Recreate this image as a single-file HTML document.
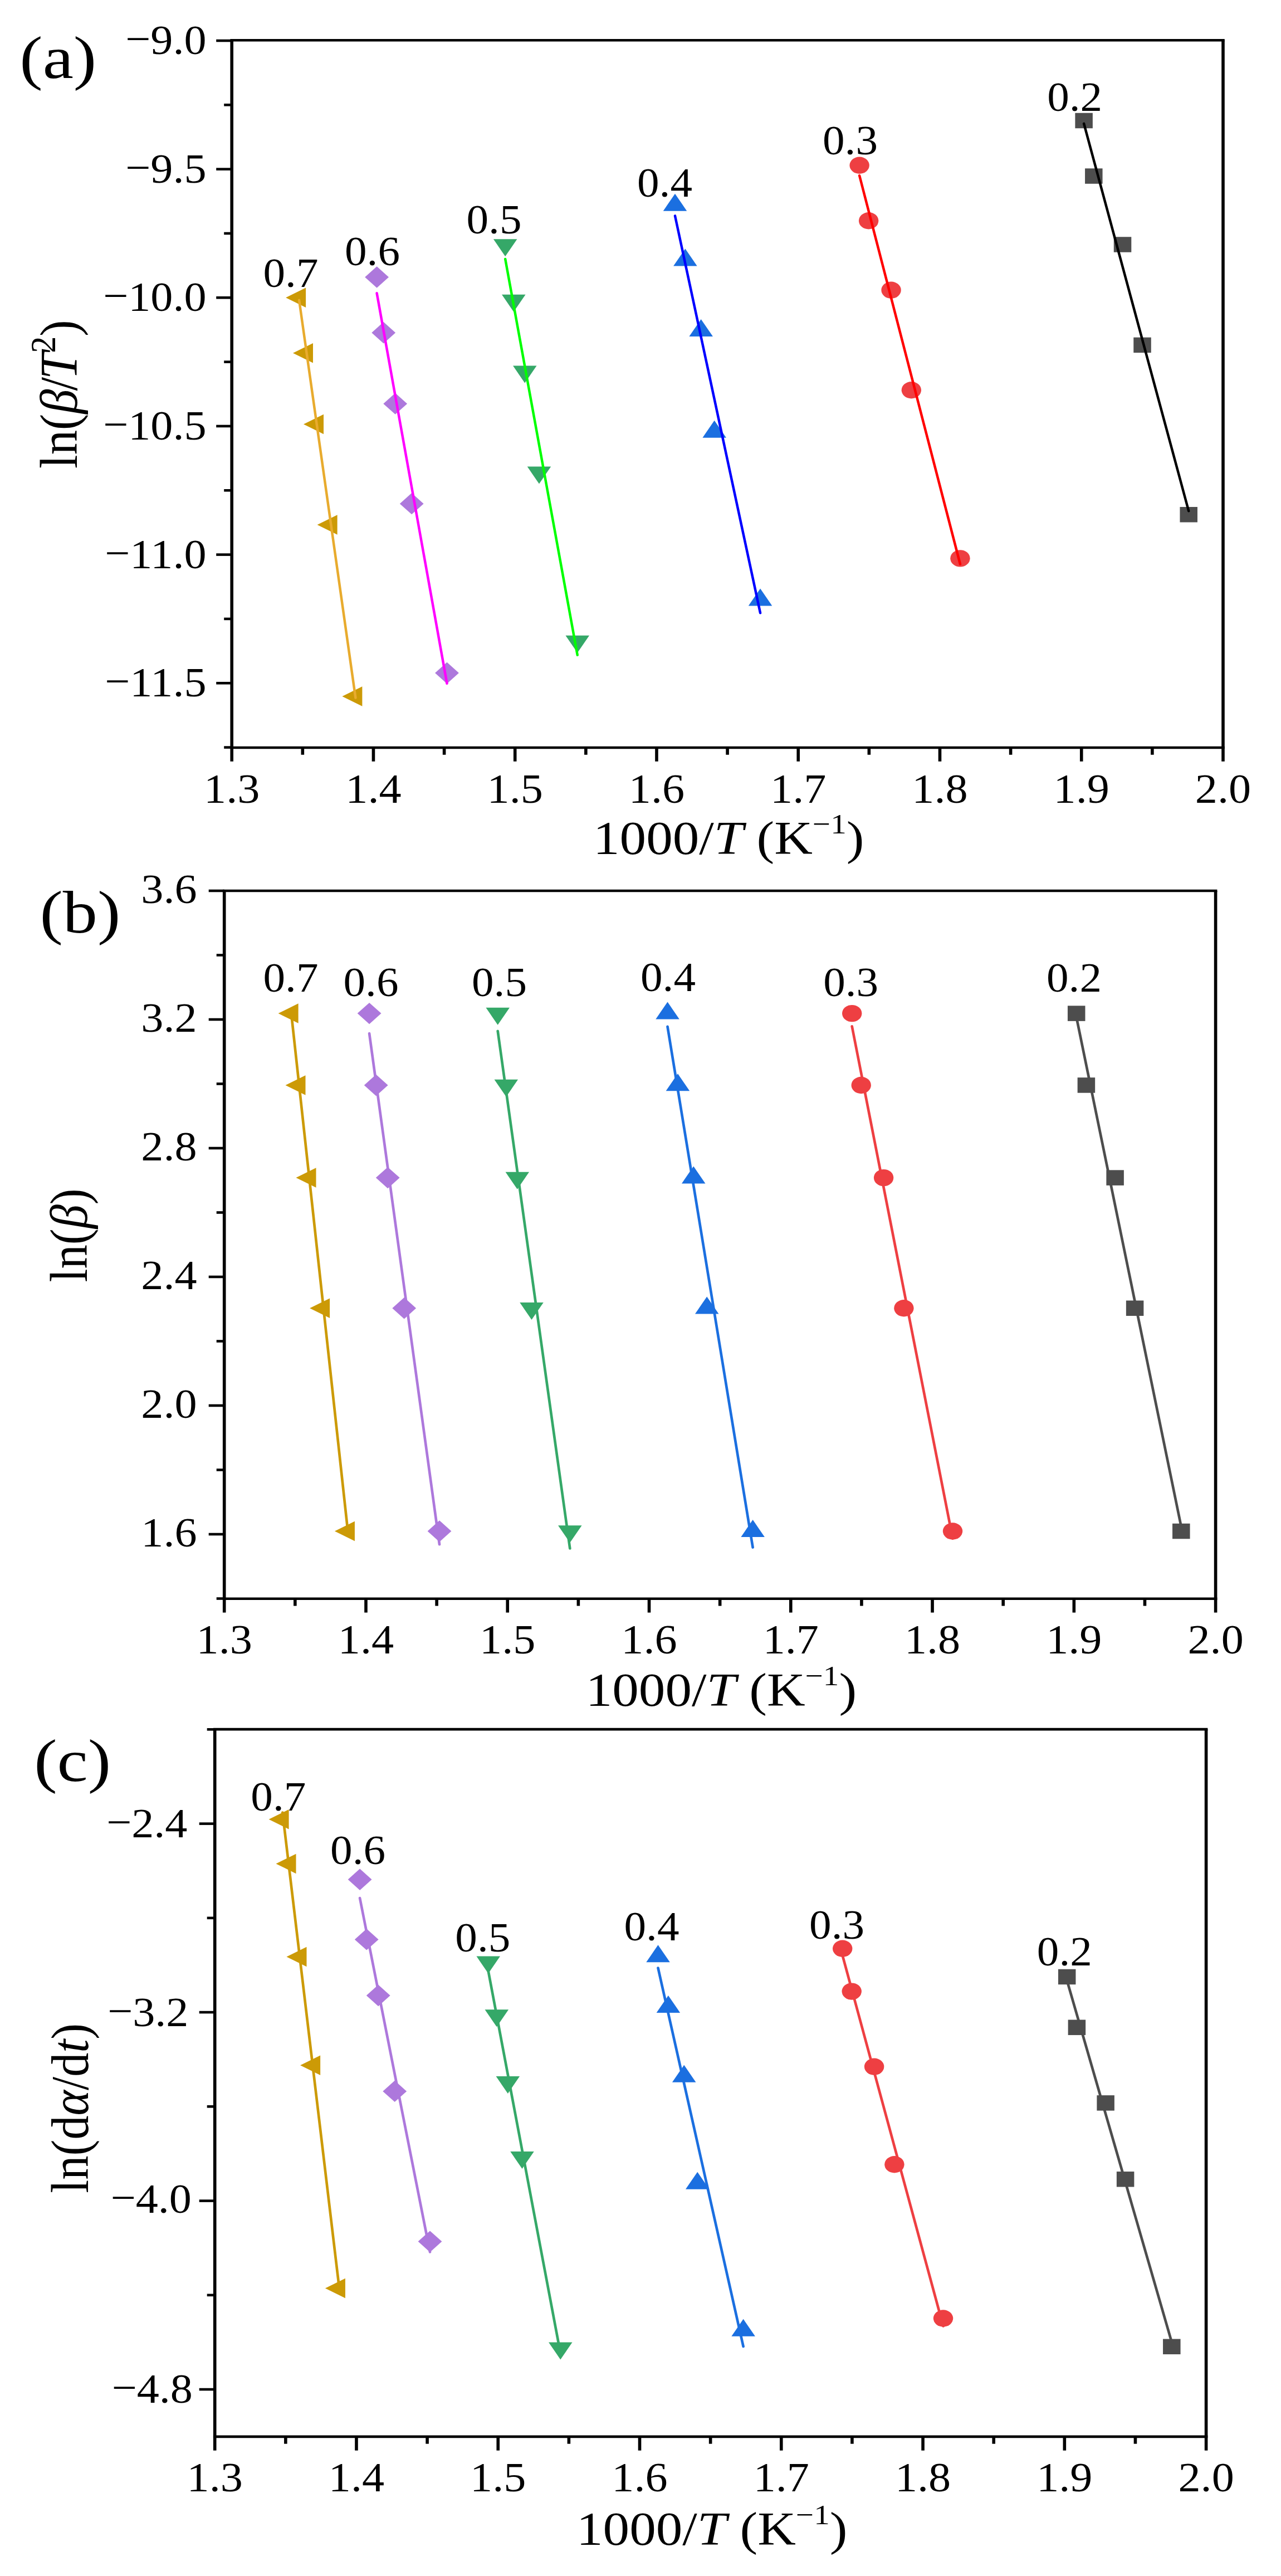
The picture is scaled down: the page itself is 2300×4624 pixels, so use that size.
<!DOCTYPE html>
<html><head><meta charset="utf-8"><title>Kinetic plots</title>
<style>html,body{margin:0;padding:0;background:#fff}svg{display:block}text{font-family:'Liberation Serif', serif;fill:#000}</style>
</head><body>
<svg width="2300" height="4624" viewBox="0 0 2300 4624">
<rect width="2300" height="4624" fill="#fff"/>
<g>
<polygon points="513.1,534.33 549.1,516.58 549.1,552.08" fill="#CC9A06"/>
<polygon points="525.99,633.8 561.99,616.05 561.99,651.55" fill="#CC9A06"/>
<polygon points="544.98,761.43 580.98,743.68 580.98,779.18" fill="#CC9A06"/>
<polygon points="569.6,941.92 605.6,924.17 605.6,959.67" fill="#CC9A06"/>
<polygon points="614.4,1249.88 650.4,1232.13 650.4,1267.63" fill="#CC9A06"/>
<line x1="537.1" y1="538.79" x2="638.4" y2="1252.57" stroke="#E8AB2E" stroke-width="4.5" stroke-linecap="round"/>
<polygon points="655.18,497.51 676.58,478.31 697.98,497.51 676.58,516.71" fill="#AD78DC"/>
<polygon points="667.29,597.32 688.69,578.12 710.09,597.32 688.69,616.52" fill="#AD78DC"/>
<polygon points="688.29,724.63 709.69,705.43 731.09,724.63 709.69,743.83" fill="#AD78DC"/>
<polygon points="717.78,904.14 739.18,884.94 760.58,904.14 739.18,923.34" fill="#AD78DC"/>
<polygon points="781.09,1207.93 802.49,1188.73 823.89,1207.93 802.49,1227.13" fill="#AD78DC"/>
<line x1="676.58" y1="526.25" x2="802.49" y2="1226.75" stroke="#FF00FF" stroke-width="4.5" stroke-linecap="round"/>
<polygon points="907.17,460.37 885.92,429.37 928.42,429.37" fill="#35A868"/>
<polygon points="922.27,559.64 901.02,528.64 943.52,528.64" fill="#35A868"/>
<polygon points="942.28,687.52 921.03,656.52 963.53,656.52" fill="#35A868"/>
<polygon points="967.96,868.39 946.71,837.39 989.21,837.39" fill="#35A868"/>
<polygon points="1036.77,1171.83 1015.52,1140.83 1058.02,1140.83" fill="#35A868"/>
<line x1="907.17" y1="464.92" x2="1036.77" y2="1175.81" stroke="#00FF00" stroke-width="4.5" stroke-linecap="round"/>
<polygon points="1211.97,347.78 1190.72,378.78 1233.22,378.78" fill="#1B6FE0"/>
<polygon points="1230.36,446.59 1209.11,477.59 1251.61,477.59" fill="#1B6FE0"/>
<polygon points="1258.66,572.98 1237.41,603.98 1279.91,603.98" fill="#1B6FE0"/>
<polygon points="1282.66,754.7 1261.41,785.7 1303.91,785.7" fill="#1B6FE0"/>
<polygon points="1365.06,1056.4 1343.81,1087.4 1386.31,1087.4" fill="#1B6FE0"/>
<line x1="1211.97" y1="387.39" x2="1365.06" y2="1100.18" stroke="#0000FF" stroke-width="4.5" stroke-linecap="round"/>
<ellipse cx="1543.14" cy="296.8" rx="17.7" ry="15.2" fill="#EE3F42"/>
<ellipse cx="1559.65" cy="396.31" rx="17.7" ry="15.2" fill="#EE3F42"/>
<ellipse cx="1600.05" cy="520.68" rx="17.7" ry="15.2" fill="#EE3F42"/>
<ellipse cx="1636.33" cy="700.29" rx="17.7" ry="15.2" fill="#EE3F42"/>
<ellipse cx="1723.95" cy="1002.35" rx="17.7" ry="15.2" fill="#EE3F42"/>
<line x1="1543.14" y1="315.3" x2="1723.95" y2="1012.67" stroke="#FF0000" stroke-width="4.5" stroke-linecap="round"/>
<rect x="1930.37" y="202.77" width="31.5" height="27.5" fill="#4D4D4D"/>
<rect x="1948.06" y="302.33" width="31.5" height="27.5" fill="#4D4D4D"/>
<rect x="1999.78" y="425.26" width="31.5" height="27.5" fill="#4D4D4D"/>
<rect x="2035.27" y="605.65" width="31.5" height="27.5" fill="#4D4D4D"/>
<rect x="2118.47" y="909.99" width="31.5" height="27.5" fill="#4D4D4D"/>
<line x1="1946.12" y1="221.92" x2="2134.22" y2="917.27" stroke="#000000" stroke-width="4.5" stroke-linecap="round"/>
<line x1="413.4" y1="72.3" x2="2198.8" y2="72.3" stroke="#000" stroke-width="4.6" stroke-linecap="butt"/>
<line x1="413.4" y1="1342" x2="2198.8" y2="1342" stroke="#000" stroke-width="4.6" stroke-linecap="butt"/>
<line x1="416.2" y1="72.3" x2="416.2" y2="1342" stroke="#000" stroke-width="5.6" stroke-linecap="butt"/>
<line x1="2196" y1="72.3" x2="2196" y2="1342" stroke="#000" stroke-width="5.6" stroke-linecap="butt"/>
<line x1="416.2" y1="1342" x2="416.2" y2="1366.8" stroke="#000" stroke-width="5.6" stroke-linecap="butt"/>
<text transform="translate(416.2,1441) scale(1.07,1)" font-size="75" text-anchor="middle" >1.3</text>
<line x1="543.33" y1="1342" x2="543.33" y2="1354.8" stroke="#000" stroke-width="5.6" stroke-linecap="butt"/>
<line x1="670.46" y1="1342" x2="670.46" y2="1366.8" stroke="#000" stroke-width="5.6" stroke-linecap="butt"/>
<text transform="translate(670.46,1441) scale(1.07,1)" font-size="75" text-anchor="middle" >1.4</text>
<line x1="797.59" y1="1342" x2="797.59" y2="1354.8" stroke="#000" stroke-width="5.6" stroke-linecap="butt"/>
<line x1="924.71" y1="1342" x2="924.71" y2="1366.8" stroke="#000" stroke-width="5.6" stroke-linecap="butt"/>
<text transform="translate(924.71,1441) scale(1.07,1)" font-size="75" text-anchor="middle" >1.5</text>
<line x1="1051.84" y1="1342" x2="1051.84" y2="1354.8" stroke="#000" stroke-width="5.6" stroke-linecap="butt"/>
<line x1="1178.97" y1="1342" x2="1178.97" y2="1366.8" stroke="#000" stroke-width="5.6" stroke-linecap="butt"/>
<text transform="translate(1178.97,1441) scale(1.07,1)" font-size="75" text-anchor="middle" >1.6</text>
<line x1="1306.1" y1="1342" x2="1306.1" y2="1354.8" stroke="#000" stroke-width="5.6" stroke-linecap="butt"/>
<line x1="1433.23" y1="1342" x2="1433.23" y2="1366.8" stroke="#000" stroke-width="5.6" stroke-linecap="butt"/>
<text transform="translate(1433.23,1441) scale(1.07,1)" font-size="75" text-anchor="middle" >1.7</text>
<line x1="1560.36" y1="1342" x2="1560.36" y2="1354.8" stroke="#000" stroke-width="5.6" stroke-linecap="butt"/>
<line x1="1687.49" y1="1342" x2="1687.49" y2="1366.8" stroke="#000" stroke-width="5.6" stroke-linecap="butt"/>
<text transform="translate(1687.49,1441) scale(1.07,1)" font-size="75" text-anchor="middle" >1.8</text>
<line x1="1814.61" y1="1342" x2="1814.61" y2="1354.8" stroke="#000" stroke-width="5.6" stroke-linecap="butt"/>
<line x1="1941.74" y1="1342" x2="1941.74" y2="1366.8" stroke="#000" stroke-width="5.6" stroke-linecap="butt"/>
<text transform="translate(1941.74,1441) scale(1.07,1)" font-size="75" text-anchor="middle" >1.9</text>
<line x1="2068.87" y1="1342" x2="2068.87" y2="1354.8" stroke="#000" stroke-width="5.6" stroke-linecap="butt"/>
<line x1="2196" y1="1342" x2="2196" y2="1366.8" stroke="#000" stroke-width="5.6" stroke-linecap="butt"/>
<text transform="translate(2196,1441) scale(1.07,1)" font-size="75" text-anchor="middle" >2.0</text>
<line x1="388.2" y1="73" x2="416.2" y2="73" stroke="#000" stroke-width="4.6" stroke-linecap="butt"/>
<text transform="translate(370.6,97) scale(1.07,1)" font-size="75" text-anchor="end" ><tspan dy="-2">−</tspan><tspan dy="2">9.0</tspan></text>
<line x1="402.2" y1="188.32" x2="416.2" y2="188.32" stroke="#000" stroke-width="4.6" stroke-linecap="butt"/>
<line x1="388.2" y1="303.65" x2="416.2" y2="303.65" stroke="#000" stroke-width="4.6" stroke-linecap="butt"/>
<text transform="translate(370.6,327.65) scale(1.07,1)" font-size="75" text-anchor="end" ><tspan dy="-2">−</tspan><tspan dy="2">9.5</tspan></text>
<line x1="402.2" y1="418.98" x2="416.2" y2="418.98" stroke="#000" stroke-width="4.6" stroke-linecap="butt"/>
<line x1="388.2" y1="534.3" x2="416.2" y2="534.3" stroke="#000" stroke-width="4.6" stroke-linecap="butt"/>
<text transform="translate(370.6,558.3) scale(1.07,1)" font-size="75" text-anchor="end" ><tspan dy="-2">−</tspan><tspan dy="2">10.0</tspan></text>
<line x1="402.2" y1="649.62" x2="416.2" y2="649.62" stroke="#000" stroke-width="4.6" stroke-linecap="butt"/>
<line x1="388.2" y1="764.95" x2="416.2" y2="764.95" stroke="#000" stroke-width="4.6" stroke-linecap="butt"/>
<text transform="translate(370.6,788.95) scale(1.07,1)" font-size="75" text-anchor="end" ><tspan dy="-2">−</tspan><tspan dy="2">10.5</tspan></text>
<line x1="402.2" y1="880.27" x2="416.2" y2="880.27" stroke="#000" stroke-width="4.6" stroke-linecap="butt"/>
<line x1="388.2" y1="995.6" x2="416.2" y2="995.6" stroke="#000" stroke-width="4.6" stroke-linecap="butt"/>
<text transform="translate(370.6,1019.6) scale(1.07,1)" font-size="75" text-anchor="end" ><tspan dy="-2">−</tspan><tspan dy="2">11.0</tspan></text>
<line x1="402.2" y1="1110.92" x2="416.2" y2="1110.92" stroke="#000" stroke-width="4.6" stroke-linecap="butt"/>
<line x1="388.2" y1="1226.25" x2="416.2" y2="1226.25" stroke="#000" stroke-width="4.6" stroke-linecap="butt"/>
<text transform="translate(370.6,1250.25) scale(1.07,1)" font-size="75" text-anchor="end" ><tspan dy="-2">−</tspan><tspan dy="2">11.5</tspan></text>
<line x1="402.2" y1="1341.58" x2="416.2" y2="1341.58" stroke="#000" stroke-width="4.6" stroke-linecap="butt"/>
<text transform="translate(1308.2,1532.5) scale(1.12,1)" font-size="85" text-anchor="middle" >1000/<tspan font-style="italic">T</tspan> (K<tspan font-size="51" dy="-37">−1</tspan><tspan dy="37">)</tspan></text>
<text transform="translate(137.9,707.65) scale(1.07,1) rotate(-90)" font-size="88.5" text-anchor="middle" >ln(<tspan font-style="italic">β</tspan><tspan dx="-3">/</tspan><tspan font-style="italic" dx="-4">T</tspan><tspan font-size="60" dy="-36" dx="-2">2</tspan><tspan dy="36">)</tspan></text>
<text transform="translate(35.3,139.5) scale(1.14,1)" font-size="109" text-anchor="start" >(a)</text>
<text transform="translate(522,515.3) scale(1.07,1)" font-size="74" text-anchor="middle" >0.7</text>
<text transform="translate(668.5,476.4) scale(1.07,1)" font-size="74" text-anchor="middle" >0.6</text>
<text transform="translate(887,418.6) scale(1.07,1)" font-size="74" text-anchor="middle" >0.5</text>
<text transform="translate(1193.5,353) scale(1.07,1)" font-size="74" text-anchor="middle" >0.4</text>
<text transform="translate(1526.5,276.5) scale(1.07,1)" font-size="74" text-anchor="middle" >0.3</text>
<text transform="translate(1929.7,199.3) scale(1.07,1)" font-size="74" text-anchor="middle" >0.2</text>
</g>
<g>
<line x1="523.61" y1="1824.75" x2="624.91" y2="2751.98" stroke="#CC9A06" stroke-width="4.7" stroke-linecap="round"/>
<polygon points="499.61,1819.1 535.61,1801.35 535.61,1836.85" fill="#CC9A06"/>
<polygon points="512.5,1947.96 548.5,1930.21 548.5,1965.71" fill="#CC9A06"/>
<polygon points="531.49,2114.1 567.49,2096.35 567.49,2131.85" fill="#CC9A06"/>
<polygon points="556.11,2348.26 592.11,2330.51 592.11,2366.01" fill="#CC9A06"/>
<polygon points="600.91,2748.55 636.91,2730.8 636.91,2766.3" fill="#CC9A06"/>
<line x1="663.1" y1="1855.16" x2="789.01" y2="2772.17" stroke="#AD78DC" stroke-width="4.7" stroke-linecap="round"/>
<polygon points="641.7,1819.1 663.1,1799.9 684.5,1819.1 663.1,1838.3" fill="#AD78DC"/>
<polygon points="653.8,1947.96 675.2,1928.76 696.6,1947.96 675.2,1967.16" fill="#AD78DC"/>
<polygon points="674.81,2114.1 696.21,2094.9 717.61,2114.1 696.21,2133.3" fill="#AD78DC"/>
<polygon points="704.3,2348.26 725.7,2329.06 747.1,2348.26 725.7,2367.46" fill="#AD78DC"/>
<polygon points="767.61,2748.55 789.01,2729.35 810.41,2748.55 789.01,2767.75" fill="#AD78DC"/>
<line x1="893.7" y1="1850.75" x2="1023.3" y2="2779.46" stroke="#35A868" stroke-width="4.7" stroke-linecap="round"/>
<polygon points="893.7,1839.77 872.45,1808.77 914.95,1808.77" fill="#35A868"/>
<polygon points="908.8,1968.63 887.55,1937.63 930.05,1937.63" fill="#35A868"/>
<polygon points="928.81,2134.77 907.56,2103.77 950.06,2103.77" fill="#35A868"/>
<polygon points="954.49,2368.92 933.24,2337.92 975.74,2337.92" fill="#35A868"/>
<polygon points="1023.3,2769.22 1002.05,2738.22 1044.55,2738.22" fill="#35A868"/>
<line x1="1198.52" y1="1842.91" x2="1351.62" y2="2777.55" stroke="#1B6FE0" stroke-width="4.7" stroke-linecap="round"/>
<polygon points="1198.52,1798.43 1177.27,1829.43 1219.77,1829.43" fill="#1B6FE0"/>
<polygon points="1216.9,1927.3 1195.65,1958.3 1238.15,1958.3" fill="#1B6FE0"/>
<polygon points="1245.2,2093.43 1223.95,2124.43 1266.45,2124.43" fill="#1B6FE0"/>
<polygon points="1269.21,2327.59 1247.96,2358.59 1290.46,2358.59" fill="#1B6FE0"/>
<polygon points="1351.62,2727.88 1330.37,2758.88 1372.87,2758.88" fill="#1B6FE0"/>
<line x1="1529.71" y1="1842.37" x2="1710.52" y2="2761.57" stroke="#EE3F42" stroke-width="4.7" stroke-linecap="round"/>
<ellipse cx="1529.71" cy="1819.1" rx="17.7" ry="15.2" fill="#EE3F42"/>
<ellipse cx="1546.21" cy="1947.96" rx="17.7" ry="15.2" fill="#EE3F42"/>
<ellipse cx="1586.61" cy="2114.1" rx="17.7" ry="15.2" fill="#EE3F42"/>
<ellipse cx="1622.9" cy="2348.26" rx="17.7" ry="15.2" fill="#EE3F42"/>
<ellipse cx="1710.52" cy="2748.55" rx="17.7" ry="15.2" fill="#EE3F42"/>
<line x1="1932.7" y1="1825.95" x2="2120.81" y2="2740.54" stroke="#4D4D4D" stroke-width="4.7" stroke-linecap="round"/>
<rect x="1916.95" y="1805.35" width="31.5" height="27.5" fill="#4D4D4D"/>
<rect x="1934.65" y="1934.21" width="31.5" height="27.5" fill="#4D4D4D"/>
<rect x="1986.37" y="2100.35" width="31.5" height="27.5" fill="#4D4D4D"/>
<rect x="2021.86" y="2334.51" width="31.5" height="27.5" fill="#4D4D4D"/>
<rect x="2105.06" y="2734.8" width="31.5" height="27.5" fill="#4D4D4D"/>
<line x1="399.9" y1="1599" x2="2185.4" y2="1599" stroke="#000" stroke-width="4.6" stroke-linecap="butt"/>
<line x1="399.9" y1="2869.8" x2="2185.4" y2="2869.8" stroke="#000" stroke-width="4.6" stroke-linecap="butt"/>
<line x1="402.7" y1="1599" x2="402.7" y2="2869.8" stroke="#000" stroke-width="5.6" stroke-linecap="butt"/>
<line x1="2182.6" y1="1599" x2="2182.6" y2="2869.8" stroke="#000" stroke-width="5.6" stroke-linecap="butt"/>
<line x1="402.7" y1="2869.8" x2="402.7" y2="2894.6" stroke="#000" stroke-width="5.6" stroke-linecap="butt"/>
<text transform="translate(402.7,2967.5) scale(1.07,1)" font-size="75" text-anchor="middle" >1.3</text>
<line x1="529.84" y1="2869.8" x2="529.84" y2="2882.6" stroke="#000" stroke-width="5.6" stroke-linecap="butt"/>
<line x1="656.97" y1="2869.8" x2="656.97" y2="2894.6" stroke="#000" stroke-width="5.6" stroke-linecap="butt"/>
<text transform="translate(656.97,2967.5) scale(1.07,1)" font-size="75" text-anchor="middle" >1.4</text>
<line x1="784.11" y1="2869.8" x2="784.11" y2="2882.6" stroke="#000" stroke-width="5.6" stroke-linecap="butt"/>
<line x1="911.24" y1="2869.8" x2="911.24" y2="2894.6" stroke="#000" stroke-width="5.6" stroke-linecap="butt"/>
<text transform="translate(911.24,2967.5) scale(1.07,1)" font-size="75" text-anchor="middle" >1.5</text>
<line x1="1038.38" y1="2869.8" x2="1038.38" y2="2882.6" stroke="#000" stroke-width="5.6" stroke-linecap="butt"/>
<line x1="1165.51" y1="2869.8" x2="1165.51" y2="2894.6" stroke="#000" stroke-width="5.6" stroke-linecap="butt"/>
<text transform="translate(1165.51,2967.5) scale(1.07,1)" font-size="75" text-anchor="middle" >1.6</text>
<line x1="1292.65" y1="2869.8" x2="1292.65" y2="2882.6" stroke="#000" stroke-width="5.6" stroke-linecap="butt"/>
<line x1="1419.79" y1="2869.8" x2="1419.79" y2="2894.6" stroke="#000" stroke-width="5.6" stroke-linecap="butt"/>
<text transform="translate(1419.79,2967.5) scale(1.07,1)" font-size="75" text-anchor="middle" >1.7</text>
<line x1="1546.92" y1="2869.8" x2="1546.92" y2="2882.6" stroke="#000" stroke-width="5.6" stroke-linecap="butt"/>
<line x1="1674.06" y1="2869.8" x2="1674.06" y2="2894.6" stroke="#000" stroke-width="5.6" stroke-linecap="butt"/>
<text transform="translate(1674.06,2967.5) scale(1.07,1)" font-size="75" text-anchor="middle" >1.8</text>
<line x1="1801.19" y1="2869.8" x2="1801.19" y2="2882.6" stroke="#000" stroke-width="5.6" stroke-linecap="butt"/>
<line x1="1928.33" y1="2869.8" x2="1928.33" y2="2894.6" stroke="#000" stroke-width="5.6" stroke-linecap="butt"/>
<text transform="translate(1928.33,2967.5) scale(1.07,1)" font-size="75" text-anchor="middle" >1.9</text>
<line x1="2055.46" y1="2869.8" x2="2055.46" y2="2882.6" stroke="#000" stroke-width="5.6" stroke-linecap="butt"/>
<line x1="2182.6" y1="2869.8" x2="2182.6" y2="2894.6" stroke="#000" stroke-width="5.6" stroke-linecap="butt"/>
<text transform="translate(2182.6,2967.5) scale(1.07,1)" font-size="75" text-anchor="middle" >2.0</text>
<line x1="374.7" y1="1599" x2="402.7" y2="1599" stroke="#000" stroke-width="4.6" stroke-linecap="butt"/>
<text transform="translate(353.6,1620.5) scale(1.07,1)" font-size="75" text-anchor="end" >3.6</text>
<line x1="388.7" y1="1714.5" x2="402.7" y2="1714.5" stroke="#000" stroke-width="4.6" stroke-linecap="butt"/>
<line x1="374.7" y1="1830" x2="402.7" y2="1830" stroke="#000" stroke-width="4.6" stroke-linecap="butt"/>
<text transform="translate(353.6,1851.5) scale(1.07,1)" font-size="75" text-anchor="end" >3.2</text>
<line x1="388.7" y1="1945.5" x2="402.7" y2="1945.5" stroke="#000" stroke-width="4.6" stroke-linecap="butt"/>
<line x1="374.7" y1="2061" x2="402.7" y2="2061" stroke="#000" stroke-width="4.6" stroke-linecap="butt"/>
<text transform="translate(353.6,2082.5) scale(1.07,1)" font-size="75" text-anchor="end" >2.8</text>
<line x1="388.7" y1="2176.5" x2="402.7" y2="2176.5" stroke="#000" stroke-width="4.6" stroke-linecap="butt"/>
<line x1="374.7" y1="2292" x2="402.7" y2="2292" stroke="#000" stroke-width="4.6" stroke-linecap="butt"/>
<text transform="translate(353.6,2313.5) scale(1.07,1)" font-size="75" text-anchor="end" >2.4</text>
<line x1="388.7" y1="2407.5" x2="402.7" y2="2407.5" stroke="#000" stroke-width="4.6" stroke-linecap="butt"/>
<line x1="374.7" y1="2523" x2="402.7" y2="2523" stroke="#000" stroke-width="4.6" stroke-linecap="butt"/>
<text transform="translate(353.6,2544.5) scale(1.07,1)" font-size="75" text-anchor="end" >2.0</text>
<line x1="388.7" y1="2638.5" x2="402.7" y2="2638.5" stroke="#000" stroke-width="4.6" stroke-linecap="butt"/>
<line x1="374.7" y1="2754" x2="402.7" y2="2754" stroke="#000" stroke-width="4.6" stroke-linecap="butt"/>
<text transform="translate(353.6,2775.5) scale(1.07,1)" font-size="75" text-anchor="end" >1.6</text>
<line x1="388.7" y1="2869.5" x2="402.7" y2="2869.5" stroke="#000" stroke-width="4.6" stroke-linecap="butt"/>
<text transform="translate(1294.9,3062.4) scale(1.12,1)" font-size="85" text-anchor="middle" >1000/<tspan font-style="italic">T</tspan> (K<tspan font-size="51" dy="-37">−1</tspan><tspan dy="37">)</tspan></text>
<text transform="translate(156.4,2217.45) scale(1.09,1) rotate(-90)" font-size="86.5" text-anchor="middle" >ln(<tspan font-style="italic">β</tspan>)</text>
<text transform="translate(71.5,1673.8) scale(1.14,1)" font-size="109" text-anchor="start" >(b)</text>
<text transform="translate(522,1779.5) scale(1.07,1)" font-size="74" text-anchor="middle" >0.7</text>
<text transform="translate(666,1788) scale(1.07,1)" font-size="74" text-anchor="middle" >0.6</text>
<text transform="translate(896.5,1788) scale(1.07,1)" font-size="74" text-anchor="middle" >0.5</text>
<text transform="translate(1199.5,1778.5) scale(1.07,1)" font-size="74" text-anchor="middle" >0.4</text>
<text transform="translate(1527.7,1788) scale(1.07,1)" font-size="74" text-anchor="middle" >0.3</text>
<text transform="translate(1928.5,1780) scale(1.07,1)" font-size="74" text-anchor="middle" >0.2</text>
</g>
<g>
<line x1="507.28" y1="3253.69" x2="607.91" y2="4097.24" stroke="#CC9A06" stroke-width="4.7" stroke-linecap="round"/>
<polygon points="482.61,3265.69 518.61,3247.94 518.61,3283.44" fill="#CC9A06"/>
<polygon points="495.5,3345.4 531.5,3327.65 531.5,3363.15" fill="#CC9A06"/>
<polygon points="514.49,3512.61 550.49,3494.86 550.49,3530.36" fill="#CC9A06"/>
<polygon points="539.11,3707.32 575.11,3689.57 575.11,3725.07" fill="#CC9A06"/>
<polygon points="583.91,4107.49 619.91,4089.74 619.91,4125.24" fill="#CC9A06"/>
<line x1="646.1" y1="3407.11" x2="772.01" y2="4042.33" stroke="#AD78DC" stroke-width="4.7" stroke-linecap="round"/>
<polygon points="624.7,3373.79 646.1,3354.59 667.5,3373.79 646.1,3392.99" fill="#AD78DC"/>
<polygon points="636.8,3481.38 658.2,3462.18 679.6,3481.38 658.2,3500.58" fill="#AD78DC"/>
<polygon points="657.81,3582 679.21,3562.8 700.61,3582 679.21,3601.2" fill="#AD78DC"/>
<polygon points="687.3,3753.9 708.7,3734.7 730.1,3753.9 708.7,3773.1" fill="#AD78DC"/>
<polygon points="750.61,4023.59 772.01,4004.39 793.41,4023.59 772.01,4042.79" fill="#AD78DC"/>
<line x1="876.7" y1="3537.93" x2="1006.3" y2="4224.26" stroke="#35A868" stroke-width="4.7" stroke-linecap="round"/>
<polygon points="876.7,3542.46 855.45,3511.46 897.95,3511.46" fill="#35A868"/>
<polygon points="891.8,3638.25 870.55,3607.25 913.05,3607.25" fill="#35A868"/>
<polygon points="911.81,3757.98 890.56,3726.98 933.06,3726.98" fill="#35A868"/>
<polygon points="937.49,3893.08 916.24,3862.08 958.74,3862.08" fill="#35A868"/>
<polygon points="1006.3,4235.45 985.05,4204.45 1027.55,4204.45" fill="#35A868"/>
<line x1="1181.52" y1="3532.58" x2="1334.62" y2="4211.97" stroke="#1B6FE0" stroke-width="4.7" stroke-linecap="round"/>
<polygon points="1181.52,3491.14 1160.27,3522.14 1202.77,3522.14" fill="#1B6FE0"/>
<polygon points="1199.9,3582.02 1178.65,3613.02 1221.15,3613.02" fill="#1B6FE0"/>
<polygon points="1228.2,3706.84 1206.95,3737.84 1249.45,3737.84" fill="#1B6FE0"/>
<polygon points="1252.21,3898.75 1230.96,3929.75 1273.46,3929.75" fill="#1B6FE0"/>
<polygon points="1334.62,4162.64 1313.37,4193.64 1355.87,4193.64" fill="#1B6FE0"/>
<line x1="1512.71" y1="3510.09" x2="1693.52" y2="4175.43" stroke="#EE3F42" stroke-width="4.7" stroke-linecap="round"/>
<ellipse cx="1512.71" cy="3497.72" rx="17.7" ry="15.2" fill="#EE3F42"/>
<ellipse cx="1529.21" cy="3574.59" rx="17.7" ry="15.2" fill="#EE3F42"/>
<ellipse cx="1569.61" cy="3709.69" rx="17.7" ry="15.2" fill="#EE3F42"/>
<ellipse cx="1605.9" cy="3885.32" rx="17.7" ry="15.2" fill="#EE3F42"/>
<ellipse cx="1693.52" cy="4161.52" rx="17.7" ry="15.2" fill="#EE3F42"/>
<line x1="1915.7" y1="3554.88" x2="2103.81" y2="4204.3" stroke="#4D4D4D" stroke-width="4.7" stroke-linecap="round"/>
<rect x="1899.95" y="3534.74" width="31.5" height="27.5" fill="#4D4D4D"/>
<rect x="1917.65" y="3625.54" width="31.5" height="27.5" fill="#4D4D4D"/>
<rect x="1969.37" y="3761.14" width="31.5" height="27.5" fill="#4D4D4D"/>
<rect x="2004.86" y="3898.05" width="31.5" height="27.5" fill="#4D4D4D"/>
<rect x="2088.06" y="4198.54" width="31.5" height="27.5" fill="#4D4D4D"/>
<line x1="382.9" y1="3104.1" x2="2168.4" y2="3104.1" stroke="#000" stroke-width="4.6" stroke-linecap="butt"/>
<line x1="382.9" y1="4373.9" x2="2168.4" y2="4373.9" stroke="#000" stroke-width="4.6" stroke-linecap="butt"/>
<line x1="385.7" y1="3104.1" x2="385.7" y2="4373.9" stroke="#000" stroke-width="5.6" stroke-linecap="butt"/>
<line x1="2165.6" y1="3104.1" x2="2165.6" y2="4373.9" stroke="#000" stroke-width="5.6" stroke-linecap="butt"/>
<line x1="385.7" y1="4373.9" x2="385.7" y2="4398.7" stroke="#000" stroke-width="5.6" stroke-linecap="butt"/>
<text transform="translate(385.7,4472) scale(1.07,1)" font-size="75" text-anchor="middle" >1.3</text>
<line x1="512.84" y1="4373.9" x2="512.84" y2="4386.7" stroke="#000" stroke-width="5.6" stroke-linecap="butt"/>
<line x1="639.97" y1="4373.9" x2="639.97" y2="4398.7" stroke="#000" stroke-width="5.6" stroke-linecap="butt"/>
<text transform="translate(639.97,4472) scale(1.07,1)" font-size="75" text-anchor="middle" >1.4</text>
<line x1="767.11" y1="4373.9" x2="767.11" y2="4386.7" stroke="#000" stroke-width="5.6" stroke-linecap="butt"/>
<line x1="894.24" y1="4373.9" x2="894.24" y2="4398.7" stroke="#000" stroke-width="5.6" stroke-linecap="butt"/>
<text transform="translate(894.24,4472) scale(1.07,1)" font-size="75" text-anchor="middle" >1.5</text>
<line x1="1021.38" y1="4373.9" x2="1021.38" y2="4386.7" stroke="#000" stroke-width="5.6" stroke-linecap="butt"/>
<line x1="1148.51" y1="4373.9" x2="1148.51" y2="4398.7" stroke="#000" stroke-width="5.6" stroke-linecap="butt"/>
<text transform="translate(1148.51,4472) scale(1.07,1)" font-size="75" text-anchor="middle" >1.6</text>
<line x1="1275.65" y1="4373.9" x2="1275.65" y2="4386.7" stroke="#000" stroke-width="5.6" stroke-linecap="butt"/>
<line x1="1402.79" y1="4373.9" x2="1402.79" y2="4398.7" stroke="#000" stroke-width="5.6" stroke-linecap="butt"/>
<text transform="translate(1402.79,4472) scale(1.07,1)" font-size="75" text-anchor="middle" >1.7</text>
<line x1="1529.92" y1="4373.9" x2="1529.92" y2="4386.7" stroke="#000" stroke-width="5.6" stroke-linecap="butt"/>
<line x1="1657.06" y1="4373.9" x2="1657.06" y2="4398.7" stroke="#000" stroke-width="5.6" stroke-linecap="butt"/>
<text transform="translate(1657.06,4472) scale(1.07,1)" font-size="75" text-anchor="middle" >1.8</text>
<line x1="1784.19" y1="4373.9" x2="1784.19" y2="4386.7" stroke="#000" stroke-width="5.6" stroke-linecap="butt"/>
<line x1="1911.33" y1="4373.9" x2="1911.33" y2="4398.7" stroke="#000" stroke-width="5.6" stroke-linecap="butt"/>
<text transform="translate(1911.33,4472) scale(1.07,1)" font-size="75" text-anchor="middle" >1.9</text>
<line x1="2038.46" y1="4373.9" x2="2038.46" y2="4386.7" stroke="#000" stroke-width="5.6" stroke-linecap="butt"/>
<line x1="2165.6" y1="4373.9" x2="2165.6" y2="4398.7" stroke="#000" stroke-width="5.6" stroke-linecap="butt"/>
<text transform="translate(2165.6,4472) scale(1.07,1)" font-size="75" text-anchor="middle" >2.0</text>
<line x1="371.7" y1="3104.36" x2="385.7" y2="3104.36" stroke="#000" stroke-width="4.6" stroke-linecap="butt"/>
<line x1="357.7" y1="3273.6" x2="385.7" y2="3273.6" stroke="#000" stroke-width="4.6" stroke-linecap="butt"/>
<text transform="translate(336.5,3297.6) scale(1.07,1)" font-size="75" text-anchor="end" ><tspan dy="-2">−</tspan><tspan dy="2">2.4</tspan></text>
<line x1="371.7" y1="3442.84" x2="385.7" y2="3442.84" stroke="#000" stroke-width="4.6" stroke-linecap="butt"/>
<line x1="357.7" y1="3612.08" x2="385.7" y2="3612.08" stroke="#000" stroke-width="4.6" stroke-linecap="butt"/>
<text transform="translate(338.5,3636.58) scale(1.07,1)" font-size="75" text-anchor="end" ><tspan dy="-2">−</tspan><tspan dy="2">3.2</tspan></text>
<line x1="371.7" y1="3781.32" x2="385.7" y2="3781.32" stroke="#000" stroke-width="4.6" stroke-linecap="butt"/>
<line x1="357.7" y1="3950.56" x2="385.7" y2="3950.56" stroke="#000" stroke-width="4.6" stroke-linecap="butt"/>
<text transform="translate(344,3972.16) scale(1.07,1)" font-size="75" text-anchor="end" ><tspan dy="-2">−</tspan><tspan dy="2">4.0</tspan></text>
<line x1="371.7" y1="4119.8" x2="385.7" y2="4119.8" stroke="#000" stroke-width="4.6" stroke-linecap="butt"/>
<line x1="357.7" y1="4289.04" x2="385.7" y2="4289.04" stroke="#000" stroke-width="4.6" stroke-linecap="butt"/>
<text transform="translate(346,4313.04) scale(1.07,1)" font-size="75" text-anchor="end" ><tspan dy="-2">−</tspan><tspan dy="2">4.8</tspan></text>
<text transform="translate(1278.2,4568) scale(1.12,1)" font-size="85" text-anchor="middle" >1000/<tspan font-style="italic">T</tspan> (K<tspan font-size="51" dy="-37">−1</tspan><tspan dy="37">)</tspan></text>
<text transform="translate(158,3784.35) scale(1.09,1) rotate(-90)" font-size="86.5" text-anchor="middle" >ln(d<tspan font-style="italic">α</tspan>/d<tspan font-style="italic">t</tspan>)</text>
<text transform="translate(61.2,3197.4) scale(1.14,1)" font-size="109" text-anchor="start" >(c)</text>
<text transform="translate(499.8,3250) scale(1.07,1)" font-size="74" text-anchor="middle" >0.7</text>
<text transform="translate(642.6,3346.3) scale(1.07,1)" font-size="74" text-anchor="middle" >0.6</text>
<text transform="translate(866.8,3502.8) scale(1.07,1)" font-size="74" text-anchor="middle" >0.5</text>
<text transform="translate(1170,3482.8) scale(1.07,1)" font-size="74" text-anchor="middle" >0.4</text>
<text transform="translate(1502.6,3479.5) scale(1.07,1)" font-size="74" text-anchor="middle" >0.3</text>
<text transform="translate(1911.3,3528.4) scale(1.07,1)" font-size="74" text-anchor="middle" >0.2</text>
</g>
</svg></body></html>
